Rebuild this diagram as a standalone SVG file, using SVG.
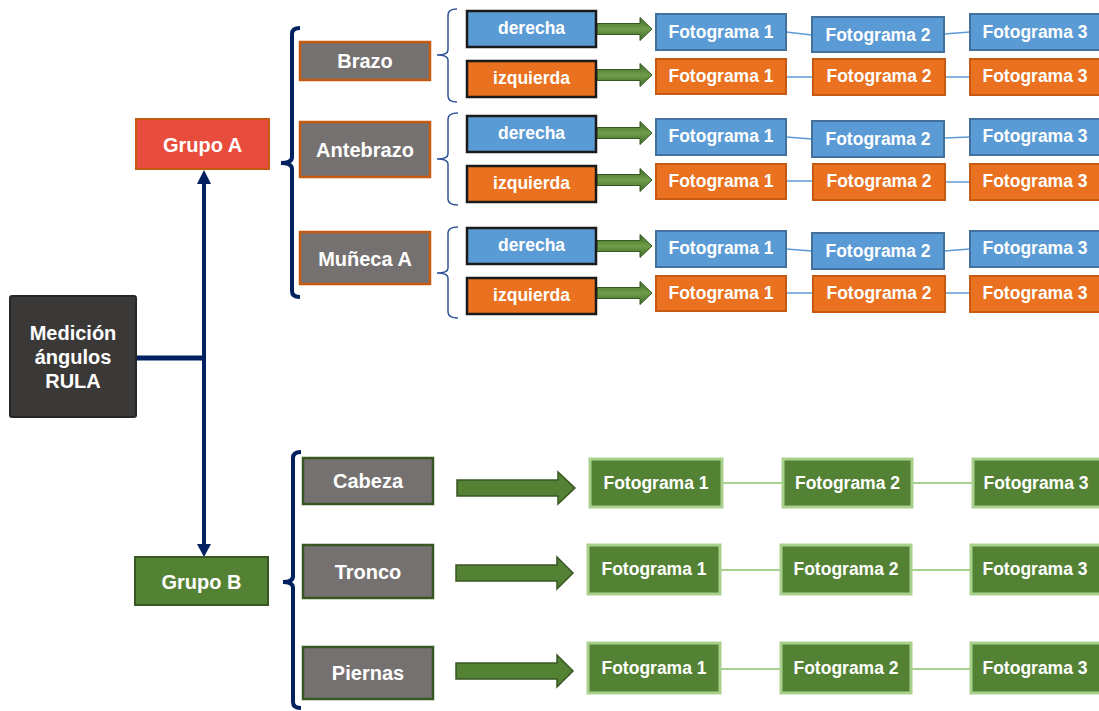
<svg xmlns="http://www.w3.org/2000/svg" width="1099" height="711" viewBox="0 0 1099 711">
<defs>
<linearGradient id="ga" x1="0" y1="0" x2="0" y2="1">
<stop offset="0" stop-color="#3f6b27"/>
<stop offset="0.5" stop-color="#6f9e4a"/>
<stop offset="1" stop-color="#3f6b27"/>
</linearGradient>
<style>
text{font-family:"Liberation Sans",Arial,sans-serif;font-weight:bold;fill:#ffffff;text-anchor:middle;dominant-baseline:central}
.t20{font-size:20px}
.t17{font-size:17.5px}
.root{fill:#3b3838;stroke:#262626;stroke-width:2}
.ga{fill:#e84c3d;stroke:#c55a11;stroke-width:2}
.gb{fill:#548235;stroke:#385723;stroke-width:2}
.part{fill:#767171;stroke:#c55a11;stroke-width:2.5}
.partb{fill:#767171;stroke:#385723;stroke-width:2.5}
.der{fill:#5b9bd5;stroke:#1a1a1a;stroke-width:2.5}
.izq{fill:#e9711f;stroke:#1a1a1a;stroke-width:2.5}
.fb{fill:#5b9bd5;stroke:#41719c;stroke-width:2}
.fo{fill:#e9711f;stroke:#c55a11;stroke-width:2}
.fg{fill:#548235;stroke:#a9d18e;stroke-width:3}
.navy{fill:none;stroke:#002060;stroke-width:4}
.br{fill:none;stroke:#2f5597;stroke-width:1.5}
.lb{stroke:#5b9bd5;stroke-width:1.5}
.lg{stroke:#a9d18e;stroke-width:2}
.sa{fill:url(#ga);stroke:#385723;stroke-width:1}
.ba{fill:#548235;stroke:#385723;stroke-width:1.5}
</style>
</defs>

<g id="connectors">
<line x1="137" y1="358" x2="204" y2="358" stroke="#002060" stroke-width="5"/>
<line x1="204" y1="182" x2="204" y2="546" stroke="#002060" stroke-width="4"/>
<polygon points="204,170 197,184 211,184" fill="#002060"/>
<polygon points="204,557 197,544 211,544" fill="#002060"/>
<path class="navy" d="M300 28 Q292 28 292 34 L292 157 Q292 163 281 163 Q292 163 292 169 L292 291 Q292 297 300 297"/>
<path class="navy" d="M301 452 Q293 452 293 458 L293 576 Q293 582 283 582 Q293 582 293 588 L293 702 Q293 708 301 708"/>
<path class="br" d="M457 9 Q448 9 448 15 L448 50 Q448 55 437 55 Q448 55 448 60 L448 96 Q448 102 457 102"/>
<path class="br" d="M458 113 Q448 113 448 119 L448 154 Q448 159 437 159 Q448 159 448 164 L448 199 Q448 205 458 205"/>
<path class="br" d="M458 227 Q448 227 448 233 L448 268 Q448 273 437 273 Q448 273 448 278 L448 312 Q448 318 458 318"/>
<polygon class="sa" points="597,23.5 640,23.5 640,17.5 652,29 640,40.5 640,34.5 597,34.5"/>
<polygon class="sa" points="597,69.5 640,69.5 640,63.5 652,75 640,86.5 640,80.5 597,80.5"/>
<polygon class="sa" points="597,127.5 640,127.5 640,121.5 652,133 640,144.5 640,138.5 597,138.5"/>
<polygon class="sa" points="597,174.5 640,174.5 640,168.5 652,180 640,191.5 640,185.5 597,185.5"/>
<polygon class="sa" points="597,240.5 640,240.5 640,234.5 652,246 640,257.5 640,251.5 597,251.5"/>
<polygon class="sa" points="597,287.5 640,287.5 640,281.5 652,293 640,304.5 640,298.5 597,298.5"/>
<line class="lb" x1="786" y1="32" x2="812" y2="35"/>
<line class="lb" x1="944" y1="34" x2="970" y2="32"/>
<line class="lb" x1="786" y1="77" x2="813" y2="77"/>
<line class="lb" x1="945" y1="77" x2="970" y2="77"/>
<line class="lb" x1="786" y1="137" x2="812" y2="139"/>
<line class="lb" x1="944" y1="138" x2="970" y2="137"/>
<line class="lb" x1="786" y1="181" x2="813" y2="181"/>
<line class="lb" x1="945" y1="182" x2="970" y2="182"/>
<line class="lb" x1="786" y1="249" x2="812" y2="251"/>
<line class="lb" x1="944" y1="251" x2="970" y2="249"/>
<line class="lb" x1="786" y1="293" x2="813" y2="293"/>
<line class="lb" x1="945" y1="293" x2="970" y2="293"/>
<polygon class="ba" points="457,480 558,480 558,472 575,488 558,504 558,496 457,496"/>
<polygon class="ba" points="456,565 557,565 557,557 573,573 557,589 557,581 456,581"/>
<polygon class="ba" points="456,663 557,663 557,655 573,671 557,687 557,679 456,679"/>
<line class="lg" x1="722" y1="483" x2="783" y2="483"/>
<line class="lg" x1="912" y1="483" x2="973" y2="483"/>
<line class="lg" x1="720" y1="570" x2="781" y2="570"/>
<line class="lg" x1="911" y1="570" x2="971" y2="570"/>
<line class="lg" x1="720" y1="669" x2="781" y2="669"/>
<line class="lg" x1="911" y1="669" x2="971" y2="669"/>
</g>

<g id="root"><rect class="root" x="10" y="296" width="126" height="121" rx="2"/>
<text class="t20" x="73" y="333">Medición</text><text class="t20" x="73" y="357">ángulos</text><text class="t20" x="73" y="381">RULA</text></g>
<g id="grupoA"><rect class="ga" x="136" y="119" width="133" height="50"/><text class="t20" x="202.5" y="145">Grupo A</text></g>
<g id="grupoB"><rect class="gb" x="135" y="557" width="133" height="48"/><text class="t20" x="201.5" y="582">Grupo B</text></g>

<g id="brazo"><rect class="part" x="300" y="42" width="130" height="38"/><text class="t20" x="365" y="61">Brazo</text></g>
<g id="antebrazo"><rect class="part" x="300" y="122" width="130" height="55"/><text class="t20" x="365" y="150">Antebrazo</text></g>
<g id="muneca"><rect class="part" x="300" y="232" width="130" height="52"/><text class="t20" x="365" y="259">Muñeca A</text></g>

<g id="brazo-der"><rect class="der" x="467" y="11" width="129" height="36"/><text class="t17" x="531.5" y="28">derecha</text></g>
<g id="brazo-izq"><rect class="izq" x="467" y="61" width="129" height="36"/><text class="t17" x="531.5" y="78">izquierda</text></g>
<g id="brazo-d1"><rect class="fb" x="656" y="14" width="130" height="36"/><text class="t17" x="721" y="32">Fotograma 1</text></g>
<g id="brazo-d2"><rect class="fb" x="812" y="17" width="132" height="35"/><text class="t17" x="878" y="34.5">Fotograma 2</text></g>
<g id="brazo-d3"><rect class="fb" x="970" y="14" width="130" height="36"/><text class="t17" x="1035" y="32">Fotograma 3</text></g>
<g id="brazo-i1"><rect class="fo" x="656" y="59" width="130" height="35"/><text class="t17" x="721" y="76">Fotograma 1</text></g>
<g id="brazo-i2"><rect class="fo" x="813" y="59" width="132" height="36"/><text class="t17" x="879" y="76">Fotograma 2</text></g>
<g id="brazo-i3"><rect class="fo" x="970" y="59" width="130" height="36"/><text class="t17" x="1035" y="76">Fotograma 3</text></g>

<g id="ante-der"><rect class="der" x="467" y="116" width="129" height="36"/><text class="t17" x="531.5" y="133">derecha</text></g>
<g id="ante-izq"><rect class="izq" x="467" y="166" width="129" height="36"/><text class="t17" x="531.5" y="183">izquierda</text></g>
<g id="ante-d1"><rect class="fb" x="656" y="119" width="130" height="36"/><text class="t17" x="721" y="136">Fotograma 1</text></g>
<g id="ante-d2"><rect class="fb" x="812" y="121" width="132" height="36"/><text class="t17" x="878" y="138.5">Fotograma 2</text></g>
<g id="ante-d3"><rect class="fb" x="970" y="119" width="130" height="36"/><text class="t17" x="1035" y="136">Fotograma 3</text></g>
<g id="ante-i1"><rect class="fo" x="656" y="164" width="130" height="35"/><text class="t17" x="721" y="181">Fotograma 1</text></g>
<g id="ante-i2"><rect class="fo" x="813" y="164" width="132" height="36"/><text class="t17" x="879" y="181">Fotograma 2</text></g>
<g id="ante-i3"><rect class="fo" x="970" y="164" width="130" height="36"/><text class="t17" x="1035" y="181">Fotograma 3</text></g>

<g id="mun-der"><rect class="der" x="467" y="228" width="129" height="36"/><text class="t17" x="531.5" y="245">derecha</text></g>
<g id="mun-izq"><rect class="izq" x="467" y="278" width="129" height="36"/><text class="t17" x="531.5" y="295">izquierda</text></g>
<g id="mun-d1"><rect class="fb" x="656" y="231" width="130" height="36"/><text class="t17" x="721" y="248">Fotograma 1</text></g>
<g id="mun-d2"><rect class="fb" x="812" y="233" width="132" height="36"/><text class="t17" x="878" y="250.5">Fotograma 2</text></g>
<g id="mun-d3"><rect class="fb" x="970" y="231" width="130" height="36"/><text class="t17" x="1035" y="248">Fotograma 3</text></g>
<g id="mun-i1"><rect class="fo" x="656" y="276" width="130" height="35"/><text class="t17" x="721" y="293">Fotograma 1</text></g>
<g id="mun-i2"><rect class="fo" x="813" y="276" width="132" height="36"/><text class="t17" x="879" y="293">Fotograma 2</text></g>
<g id="mun-i3"><rect class="fo" x="970" y="276" width="130" height="36"/><text class="t17" x="1035" y="293">Fotograma 3</text></g>

<g id="cabeza"><rect class="partb" x="303" y="458" width="130" height="46"/><text class="t20" x="368" y="481">Cabeza</text></g>
<g id="tronco"><rect class="partb" x="303" y="545" width="130" height="53"/><text class="t20" x="368" y="571.5">Tronco</text></g>
<g id="piernas"><rect class="partb" x="303" y="647" width="130" height="52"/><text class="t20" x="368" y="673">Piernas</text></g>

<g id="cab-f1"><rect class="fg" x="590" y="459" width="132" height="48"/><text class="t17" x="656" y="483">Fotograma 1</text></g>
<g id="cab-f2"><rect class="fg" x="783" y="459" width="129" height="48"/><text class="t17" x="847.5" y="483">Fotograma 2</text></g>
<g id="cab-f3"><rect class="fg" x="973" y="459" width="128" height="48"/><text class="t17" x="1036" y="483">Fotograma 3</text></g>
<g id="tro-f1"><rect class="fg" x="588" y="545" width="132" height="49"/><text class="t17" x="654" y="569">Fotograma 1</text></g>
<g id="tro-f2"><rect class="fg" x="781" y="545" width="130" height="49"/><text class="t17" x="846" y="569">Fotograma 2</text></g>
<g id="tro-f3"><rect class="fg" x="971" y="545" width="130" height="49"/><text class="t17" x="1035" y="569">Fotograma 3</text></g>
<g id="pie-f1"><rect class="fg" x="588" y="643" width="132" height="50"/><text class="t17" x="654" y="668">Fotograma 1</text></g>
<g id="pie-f2"><rect class="fg" x="781" y="643" width="130" height="50"/><text class="t17" x="846" y="668">Fotograma 2</text></g>
<g id="pie-f3"><rect class="fg" x="971" y="643" width="130" height="50"/><text class="t17" x="1035" y="668">Fotograma 3</text></g>
</svg>
